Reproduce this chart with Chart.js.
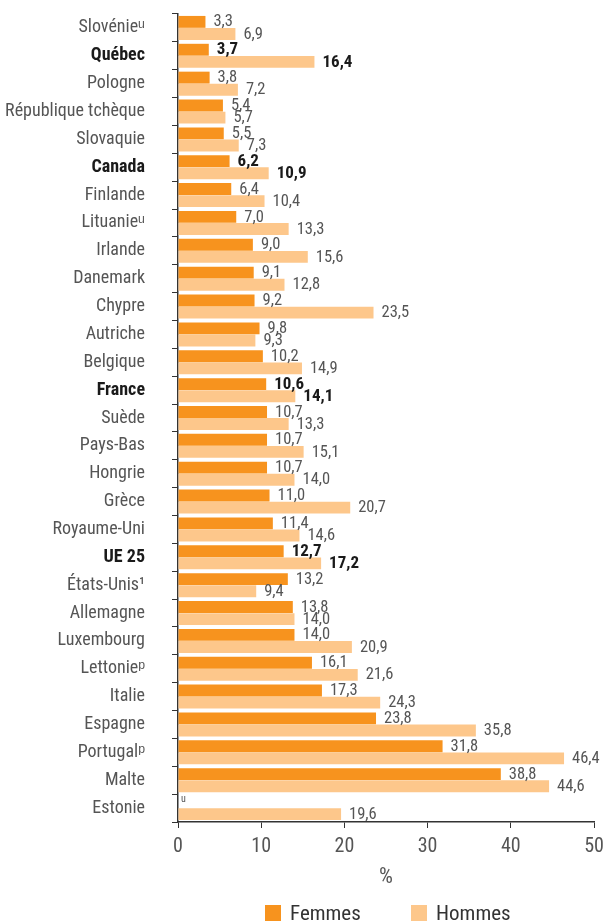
<!DOCTYPE html>
<html><head><meta charset="utf-8">
<script src="https://cdn.jsdelivr.net/npm/chart.js@4"></script>
<style>html,body{margin:0;padding:0;background:#fff}#wrap{width:603px;height:921px;position:relative}</style>
</head><body><div id="wrap"><canvas id="c" width="603" height="921"></canvas></div>
<script>
const categories = ["Slovénie\u1D58","Québec","Pologne","République tchèque","Slovaquie","Canada","Finlande","Lituanie\u1D58","Irlande","Danemark","Chypre","Autriche","Belgique","France","Suède","Pays-Bas","Hongrie","Grèce","Royaume-Uni","UE 25","États-Unis\u00B9","Allemagne","Luxembourg","Lettonie\u1D56","Italie","Espagne","Portugal\u1D56","Malte","Estonie"];
const boldCategories = ["Québec","Canada","France","UE 25"];
const femmes = [3.3,3.7,3.8,5.4,5.5,6.2,6.4,7.0,9.0,9.1,9.2,9.8,10.2,10.6,10.7,10.7,10.7,11.0,11.4,12.7,13.2,13.8,14.0,16.1,17.3,23.8,31.8,38.8,null];
const hommes = [6.9,16.4,7.2,5.7,7.3,10.9,10.4,13.3,15.6,12.8,23.5,9.3,14.9,14.1,13.3,15.1,14.0,20.7,14.6,17.2,9.4,14.0,20.9,21.6,24.3,35.8,46.4,44.6,19.6];
const xTicks = [0,10,20,30,40,50];
const seriesNames = ["Femmes","Hommes"];
const missingNote = "u";

const FONT = "'Roboto Condensed','Liberation Sans Narrow',sans-serif";
const isBold = i => boldCategories.includes(categories[i]);
const fmt = v => v.toFixed(1).replace('.', ',');

const valueLabels = {
  id: 'valueLabels',
  afterDatasetsDraw(chart) {
    const ctx = chart.ctx;
    ctx.save();
    ctx.textBaseline = 'middle';
    ctx.textAlign = 'left';
    chart.data.datasets.forEach((ds, di) => {
      const meta = chart.getDatasetMeta(di);
      meta.data.forEach((bar, i) => {
        const v = ds.data[i];
        const b = isBold(i);
        if (v === null || v === undefined) {
          const x0 = chart.scales.x.getPixelForValue(0);
          ctx.font = "10px " + FONT;
          ctx.fillStyle = '#555';
          ctx.fillText(missingNote, x0 + 3, bar.y - 3);
          return;
        }
        ctx.font = (b ? "bold 17px " : "16.5px ") + FONT;
        ctx.fillStyle = b ? '#1a1a1a' : '#555';
        ctx.fillText(fmt(v), bar.x + 8, bar.y + 0.5);
      });
    });
    ctx.restore();
  }
};

const customLegend = {
  id: 'customLegend',
  afterDraw(chart) {
    const ctx = chart.ctx;
    ctx.save();
    const starts = [265, 411];
    chart.data.datasets.forEach((ds, i) => {
      ctx.fillStyle = ds.backgroundColor;
      ctx.fillRect(starts[i], 905, 16, 16);
      ctx.fillStyle = '#333';
      ctx.font = "21px " + FONT;
      ctx.textBaseline = 'alphabetic';
      ctx.fillText(ds.label, starts[i] + 25, 920);
    });
    ctx.restore();
  }
};

new Chart(document.getElementById('c'), {
  type: 'bar',
  data: {
    labels: categories,
    datasets: [
      {label: seriesNames[0], data: femmes, backgroundColor: '#F7931E', categoryPercentage: 0.87, barPercentage: 0.98},
      {label: seriesNames[1], data: hommes, backgroundColor: '#FDC78B', categoryPercentage: 0.87, barPercentage: 0.98}
    ]
  },
  options: {
    indexAxis: 'y',
    responsive: false,
    animation: false,
    layout: {padding: {top: 14, right: 9, bottom: 29, left: 0}},
    plugins: {legend: {display: false}, tooltip: {enabled: false}},
    scales: {
      x: {
        min: 0, max: 50,
        afterFit(s) { s.height = 70; s.paddingLeft = 0; s.paddingRight = 0; },
        afterBuildTicks(s) { s.ticks = xTicks.map(v => ({value: v})); },
        grid: {display: true, drawOnChartArea: false, drawTicks: true, tickLength: 6, color: '#333', lineWidth: 1},
        border: {display: true, color: '#333', width: 1.5},
        ticks: {font: {family: FONT, size: 20}, color: '#555', padding: 7},
        title: {display: true, text: '%', font: {family: FONT, size: 22}, color: '#555', padding: {top: 0, bottom: 1}}
      },
      y: {
        afterFit(s) { s.width = 178; s.paddingTop = 0; s.paddingBottom = 0; },
        grid: {display: true, drawOnChartArea: false, drawTicks: true, tickLength: 6, color: '#333', lineWidth: 1, offset: true},
        border: {display: true, color: '#333', width: 1.5},
        ticks: {
          autoSkip: false,
          padding: 27,
          font: c => ({family: FONT, size: 18, weight: isBold(c.index) ? 'bold' : 'normal'}),
          color: c => isBold(c.index) ? '#1a1a1a' : '#555'
        }
      }
    }
  },
  plugins: [valueLabels, customLegend]
});
</script></body></html>
